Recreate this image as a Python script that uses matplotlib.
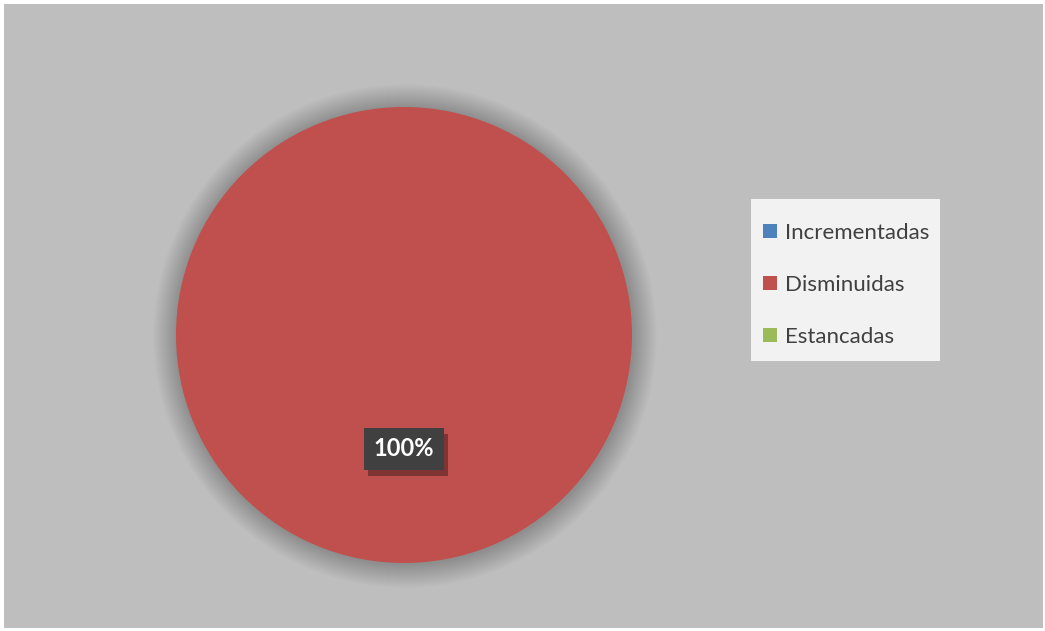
import numpy as np
import matplotlib.pyplot as plt
from matplotlib.patches import Rectangle, Circle
from matplotlib import patheffects

# datos del grafico
categorias = ['Incrementadas', 'Disminuidas', 'Estancadas']
porcentajes = [0, 100, 0]
colores = ['#4F81BD', '#C0504D', '#9BBB59']

plt.rcParams['font.family'] = ['Lato', 'DejaVu Sans']

W, H = 1045, 631
fig = plt.figure(figsize=(W / 100, H / 100), dpi=100, facecolor='white')
ax = fig.add_axes([0, 0, 1, 1])

# fondo gris del area del grafico (coordenadas en pixeles)
ax.add_patch(Rectangle((4, H - 628), 1039, 624, facecolor='#BEBEBE',
                       edgecolor='none', zorder=0))

cx, cy, r = 404, H - 335, 228

# sombra difusa alrededor del pastel
for i in range(24):
    ax.add_patch(Circle((cx + 1, cy - 1), r + 24 - i, facecolor='black',
                        edgecolor='none', alpha=0.007, zorder=1))

wedges, textos = ax.pie(porcentajes, colors=colores, center=(cx, cy), radius=r,
                        startangle=90, counterclock=False,
                        wedgeprops=dict(zorder=2))

# etiqueta del valor solo para la porcion no vacia
total = sum(porcentajes)
for w, v in zip(wedges, porcentajes):
    if v == 0:
        continue
    ang = np.deg2rad((w.theta1 + w.theta2) / 2)
    x = cx + 0.5 * r * np.cos(ang)
    y = cy + 0.5 * r * np.sin(ang)
    t = ax.text(x, y, f'{v / total * 100:.0f}%', ha='center', va='center',
                fontsize=17, fontweight='bold', color='white', zorder=5,
                bbox=dict(boxstyle='square,pad=0.4', facecolor='#404040',
                          edgecolor='none'))
    t.get_bbox_patch().set_path_effects(
        [patheffects.withSimplePatchShadow(offset=(3, -4), alpha=0.35,
                                           shadow_rgbFace='black')])

ax.set_xlim(0, W)
ax.set_ylim(0, H)
ax.set_aspect('auto')
ax.axis('off')

# caja de la leyenda
ax.add_patch(Rectangle((751, H - 361), 189, 162, facecolor='#F2F2F2',
                       edgecolor='none', zorder=3))
leg = ax.legend(wedges, categorias, loc='upper left',
                bbox_to_anchor=(752 / W, 1 - 212 / H), frameon=False,
                fontsize=16, labelcolor='#404040', handlelength=0.62,
                handleheight=0.62, handletextpad=0.35, labelspacing=1.44,
                borderpad=0)
leg.set_zorder(4)

fig.savefig('out.png', dpi=100, facecolor='white')
